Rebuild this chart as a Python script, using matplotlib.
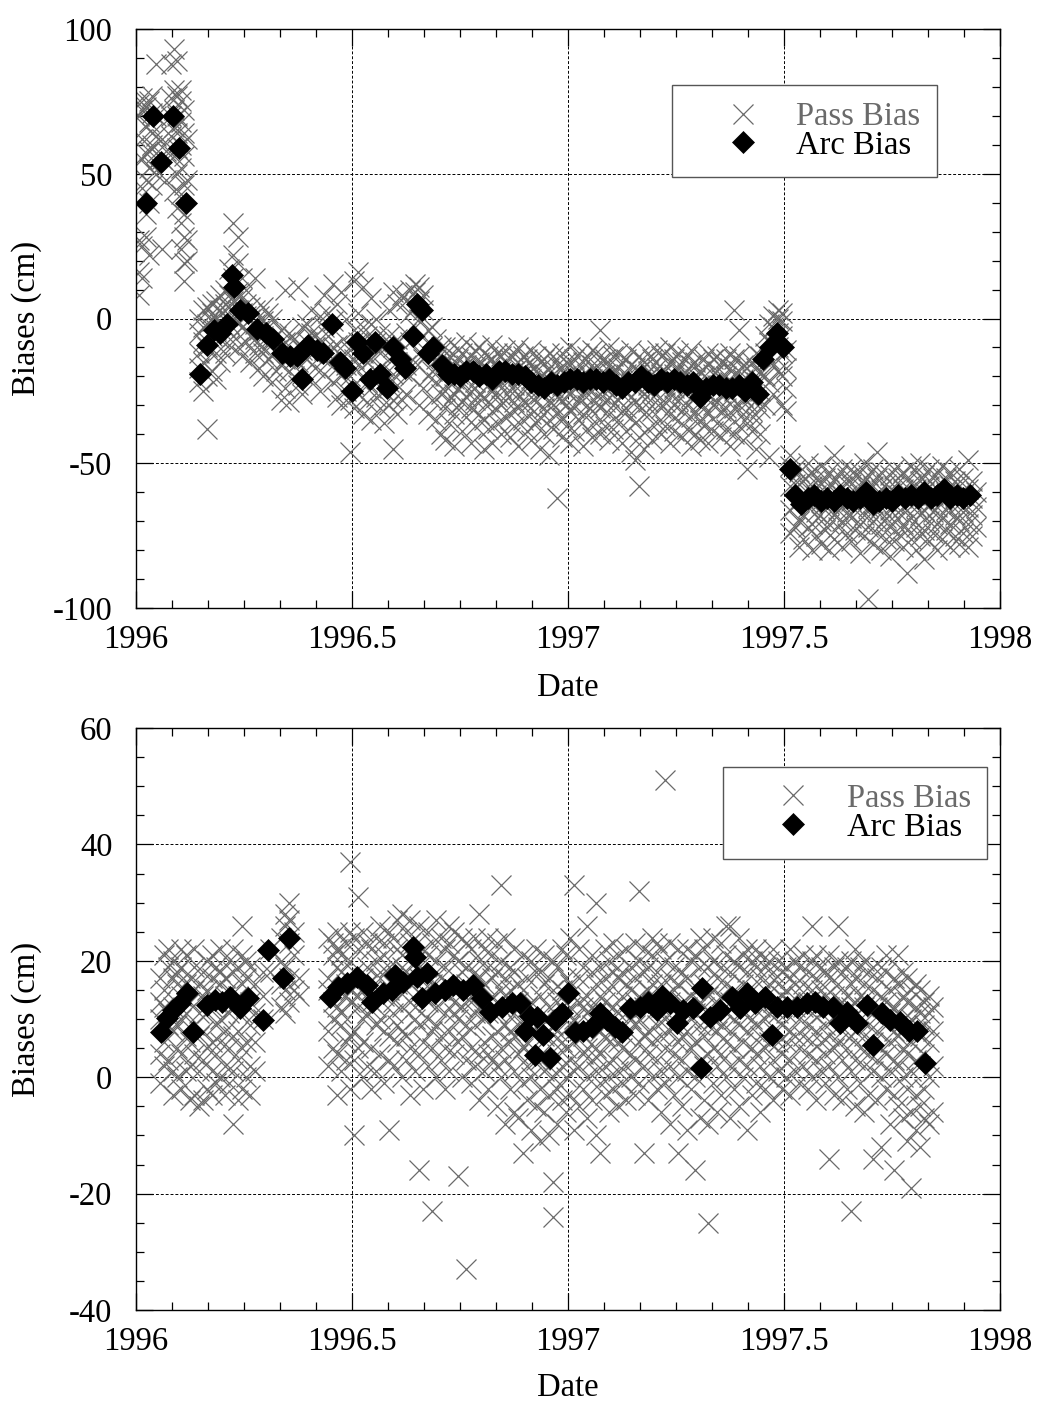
import matplotlib
matplotlib.use("Agg")
import matplotlib.pyplot as plt
from matplotlib.ticker import MultipleLocator, FixedLocator

plt.rcParams['font.family'] = ['Liberation Serif', 'DejaVu Serif']
plt.rcParams['axes.unicode_minus'] = False

# ---------------- top panel data ----------------
arc_top_x = [1996.023, 1996.039, 1996.058, 1996.086, 1996.100, 1996.116,
             1996.148, 1996.164, 1996.180, 1996.195, 1996.210, 1996.222, 1996.226, 1996.240, 1996.260,
             1996.280, 1996.300, 1996.317, 1996.338, 1996.356, 1996.372, 1996.384, 1996.398, 1996.419,
             1996.433, 1996.454, 1996.472, 1996.484, 1996.500, 1996.512, 1996.525, 1996.542, 1996.553,
             1996.565, 1996.581, 1996.595, 1996.611, 1996.623, 1996.641, 1996.650, 1996.662, 1996.676,
             1996.688, 1996.708, 1996.722,
             1996.735, 1996.750, 1996.765, 1996.780, 1996.795, 1996.810, 1996.825, 1996.840, 1996.855,
             1996.870, 1996.885, 1996.900, 1996.915, 1996.930, 1996.945, 1996.960, 1996.975, 1996.990,
             1997.005, 1997.020, 1997.035, 1997.050, 1997.065, 1997.080, 1997.095, 1997.110, 1997.125,
             1997.140, 1997.155, 1997.170, 1997.185, 1997.200, 1997.215, 1997.230, 1997.245, 1997.260,
             1997.275, 1997.290, 1997.305, 1997.320, 1997.335, 1997.350, 1997.365, 1997.380, 1997.395,
             1997.410, 1997.425, 1997.440,
             1997.451, 1997.468, 1997.483, 1997.498, 1997.514,
             1997.525, 1997.540, 1997.555, 1997.570, 1997.585, 1997.600, 1997.615, 1997.630, 1997.645,
             1997.660, 1997.675, 1997.690, 1997.705, 1997.720, 1997.735, 1997.750, 1997.765, 1997.780,
             1997.795, 1997.810, 1997.825, 1997.840, 1997.855, 1997.870, 1997.885, 1997.900, 1997.915, 1997.930]
arc_top_y = [40, 70, 54, 70, 59, 40,
             -19, -9, -4, -5, -2, 15, 11, 3, 2,
             -3.5, -5, -7, -12, -13, -13, -21, -9, -11,
             -12, -2, -15, -17, -25, -8, -12, -21, -8,
             -19, -24, -10, -14, -17, -6, 5, 3, -12,
             -10, -16, -19,
             -19, -20, -18, -18, -20, -19, -21, -18, -18,
             -19, -19, -20, -22, -23, -24, -22, -23, -22,
             -21, -21, -22, -21, -21, -22, -21, -23, -24,
             -22, -22, -20, -22, -23, -21, -22, -21, -22,
             -23, -22, -27, -24, -23, -23, -24, -24, -23,
             -25, -22, -26,
             -14, -10, -5, -10, -52,
             -61, -64, -62, -61, -63, -62, -63, -61, -62,
             -63, -62, -60, -64, -63, -62, -63, -61, -62,
             -61, -62, -60, -62, -61, -59, -62, -61, -62, -61]

pass_top_early = {
    1996.006: [8, 16, 27, 70, 74], 1996.014: [14, 25, 45, 55, 62, 72, 76],
    1996.022: [28, 36, 48, 57, 66, 73], 1996.030: [22, 40, 52, 58, 68, 75],
    1996.038: [46, 53, 60, 64, 71, 77], 1996.046: [50, 57, 63, 70, 88],
    1996.060: [24, 55, 62], 1996.070: [48, 58],
    1996.080: [63, 70, 76, 88], 1996.088: [44, 56, 66, 72, 79, 93],
    1996.096: [38, 50, 59, 64, 70, 77, 89], 1996.104: [24, 33, 43, 52, 60, 68, 75, 79],
    1996.112: [13, 19, 28, 36, 46, 56, 64, 72], 1996.118: [20, 27, 48, 62],
}

pass_top_mid = {
    1996.145: [-22, -17, -12, -5, 0], 1996.155: [-25, -15, -8, -3, 3],
    1996.165: [-38, -20, -10, -2, 4], 1996.175: [-18, -6, -1, 2, 5],
    1996.185: [-21, -12, -4, 0, 6], 1996.195: [-15, -7, -2, 3, 8],
    1996.205: [-12, -3, 1, 5, 10], 1996.215: [-9, -2, 4, 8, 17],
    1996.225: [-6, 0, 6, 14, 22, 33], 1996.235: [-10, -1, 3, 9, 19, 28],
    1996.245: [-13, -3, 2, 7, 14], 1996.255: [-8, -4, 1, 5, 10],
    1996.265: [-15, -6, 0, 4], 1996.275: [-12, -7, -2, 3, 14],
    1996.285: [-17, -9, -4, 1], 1996.295: [-20, -12, -6, -1, 4],
    1996.305: [-14, -9, -3, 2], 1996.315: [-22, -13, -7, 0],
    1996.325: [-18, -11, -6], 1996.335: [-28, -16, -10, -4],
    1996.345: [-24, -14, -8, 10], 1996.355: [-29, -18, -12, -5],
    1996.365: [-20, -14, -7], 1996.375: [-23, -15, -9, 11],
    1996.385: [-26, -19, -11, -3], 1996.395: [-14, -8, -2],
    1996.405: [-21, -12, -5, 3], 1996.415: [-17, -10, -6],
    1996.425: [-25, -13, -7, 1], 1996.435: [-19, -11, -3, 8],
    1996.445: [-15, -6, 2], 1996.455: [-22, -10, -1, 12],
    1996.465: [-27, -17, -9, 5], 1996.475: [-30, -20, -13, 9],
    1996.485: [-25, -16, -8, 0], 1996.495: [-46, -28, -20, -11],
    1996.505: [-31, -23, -14, -4, 13], 1996.515: [-26, -16, -8, 2, 16],
    1996.525: [-33, -20, -12, -3, 11], 1996.535: [-29, -22, -15, -6],
    1996.545: [-35, -24, -14, -2, 7], 1996.555: [-27, -18, -8, 0],
    1996.565: [-31, -21, -12, -5], 1996.575: [-36, -25, -17, -9],
    1996.585: [-30, -22, -14, -6, 3], 1996.595: [-45, -28, -19, -10, 9],
    1996.605: [-33, -23, -15, -7, 5], 1996.615: [-28, -18, -11, 8],
    1996.625: [-26, -16, -5, 6], 1996.635: [-20, -8, 2, 10],
    1996.645: [-15, -3, 4, 9, 12], 1996.655: [-30, -12, 0, 6, 11],
    1996.665: [-24, -14, -6, 3, 8], 1996.675: [-33, -20, -12, -4],
    1996.685: [-28, -18, -10, -3], 1996.695: [-35, -22, -14, -7],
    1996.705: [-40, -26, -17, -10],
}

pass_top_band = {
    1996.715: [-42, -31, -25, -20, -15, -10], 1996.725: [-36, -28, -22, -18, -13],
    1996.735: [-44, -33, -26, -21, -16, -9], 1996.745: [-30, -24, -19, -14, -11],
    1996.755: [-39, -29, -23, -17, -12], 1996.765: [-34, -27, -21, -16, -8],
    1996.775: [-43, -31, -25, -19, -13], 1996.785: [-37, -28, -22, -17, -11],
    1996.795: [-33, -26, -20, -15, -10], 1996.805: [-45, -35, -27, -21, -16, -12],
    1996.815: [-38, -29, -23, -18, -13], 1996.825: [-43, -32, -25, -19, -14, -9],
    1996.835: [-36, -27, -22, -17, -12], 1996.845: [-40, -30, -24, -18, -13],
    1996.855: [-34, -28, -21, -15, -11], 1996.865: [-41, -33, -25, -20, -14],
    1996.875: [-37, -29, -23, -18, -12], 1996.885: [-44, -31, -26, -20, -15, -10],
    1996.895: [-35, -28, -22, -17, -13], 1996.905: [-39, -30, -24, -19, -14],
    1996.915: [-42, -33, -27, -21, -16, -11], 1996.925: [-36, -29, -23, -18, -13],
    1996.935: [-45, -34, -26, -20, -15], 1996.945: [-40, -31, -25, -19, -14],
    1996.955: [-47, -35, -28, -22, -17, -12], 1996.965: [-38, -30, -24, -19, -13],
    1996.975: [-62, -33, -27, -21, -16], 1996.985: [-41, -34, -28, -23, -17, -12],
    1996.995: [-37, -30, -25, -20, -15], 1997.005: [-43, -32, -26, -21, -16, -10],
    1997.015: [-39, -31, -24, -19, -14], 1997.025: [-35, -28, -23, -18, -12],
    1997.035: [-44, -33, -26, -20, -15], 1997.045: [-38, -30, -24, -19, -13],
    1997.055: [-41, -32, -25, -21, -16, -11], 1997.065: [-36, -29, -23, -18, -12],
    1997.075: [-40, -31, -26, -20, -15, -4], 1997.085: [-37, -29, -24, -19, -14],
    1997.095: [-42, -33, -27, -21, -16, -10], 1997.105: [-38, -30, -23, -18, -13],
    1997.115: [-35, -28, -22, -17, -12], 1997.125: [-43, -32, -26, -20, -15],
    1997.135: [-39, -31, -25, -19, -14], 1997.145: [-46, -34, -27, -22, -16, -11],
    1997.155: [-49, -36, -29, -23, -17], 1997.165: [-58, -41, -30, -24, -18, -13],
    1997.175: [-45, -33, -26, -20, -15], 1997.185: [-38, -29, -23, -18, -12],
    1997.195: [-42, -32, -25, -19, -14], 1997.205: [-36, -28, -22, -17, -11],
    1997.215: [-40, -31, -24, -19, -13], 1997.225: [-37, -29, -23, -18, -12],
    1997.235: [-43, -33, -26, -20, -15, -10], 1997.245: [-39, -30, -24, -19, -14],
    1997.255: [-35, -28, -22, -17, -12], 1997.265: [-41, -32, -25, -20, -15],
    1997.275: [-38, -30, -24, -19, -13], 1997.285: [-44, -34, -27, -21, -16, -11],
    1997.295: [-40, -32, -26, -21, -15], 1997.305: [-42, -35, -29, -23, -18],
    1997.315: [-37, -31, -25, -20, -14], 1997.325: [-43, -33, -26, -21, -16, -12],
    1997.335: [-39, -30, -24, -19, -14], 1997.345: [-36, -29, -23, -18, -13],
    1997.355: [-41, -32, -26, -21, -15], 1997.365: [-38, -31, -25, -20, -14],
    1997.375: [-44, -34, -27, -22, -17, -12], 1997.385: [-40, -31, -25, -19, -14, 3],
    1997.395: [-37, -30, -24, -18, -13, -4], 1997.405: [-42, -33, -27, -21, -16],
    1997.415: [-52, -36, -29, -23, -17], 1997.425: [-39, -32, -26, -21, -15],
    1997.435: [-45, -35, -28, -22, -17, -12], 1997.445: [-40, -31, -25, -19, -13],
    1997.455: [-30, -20, -12, -6], 1997.465: [-48, -22, -14, -8, -2],
    1997.475: [-26, -16, -9, -3, 1], 1997.485: [-18, -10, -5, 0, 3],
    1997.495: [-30, -20, -12, -6, -1, 2], 1997.505: [-32, -24, -17, -11],
}

pass_top_late = {
    1997.515: [-74, -66, -58, -51, -47], 1997.525: [-72, -64, -57, -52],
    1997.535: [-79, -70, -63, -57, -53], 1997.545: [-76, -68, -62, -56],
    1997.555: [-72, -65, -59, -54, -50], 1997.565: [-80, -71, -64, -58, -53],
    1997.575: [-75, -67, -61, -55], 1997.585: [-78, -70, -63, -57, -51],
    1997.595: [-73, -66, -60, -55], 1997.605: [-80, -71, -64, -58, -53],
    1997.615: [-76, -68, -62, -56, -47], 1997.625: [-72, -66, -60, -54],
    1997.635: [-79, -70, -64, -58, -52], 1997.645: [-74, -67, -61, -55],
    1997.655: [-77, -69, -63, -57, -52], 1997.665: [-73, -66, -60, -54],
    1997.675: [-81, -71, -64, -58, -53], 1997.685: [-75, -68, -62, -56, -50],
    1997.695: [-97, -72, -65, -59, -54], 1997.705: [-78, -70, -64, -58, -52],
    1997.715: [-74, -67, -61, -55, -46], 1997.725: [-80, -71, -65, -59, -53],
    1997.735: [-76, -69, -63, -57], 1997.745: [-82, -72, -66, -60, -54],
    1997.755: [-77, -70, -64, -58, -52], 1997.765: [-74, -67, -61, -55],
    1997.775: [-79, -71, -65, -59, -53], 1997.785: [-88, -73, -66, -60, -55],
    1997.795: [-76, -69, -63, -57, -51], 1997.805: [-80, -72, -65, -59, -53],
    1997.815: [-75, -68, -62, -56, -50], 1997.825: [-83, -73, -66, -60, -54],
    1997.835: [-77, -70, -64, -58, -52], 1997.845: [-74, -67, -61, -55],
    1997.855: [-80, -71, -65, -59, -53], 1997.865: [-76, -69, -63, -57, -51],
    1997.875: [-73, -66, -60, -55], 1997.885: [-79, -71, -64, -58, -53],
    1997.895: [-75, -68, -62, -56], 1997.905: [-78, -70, -64, -58, -52],
    1997.915: [-74, -67, -61, -55], 1997.925: [-79, -71, -65, -59, -49],
    1997.935: [-75, -68, -62, -56], 1997.945: [-72, -65, -60],
}

# ---------------- bottom panel data ----------------
arc_bot_x = [1996.058, 1996.072, 1996.086, 1996.102, 1996.118, 1996.132, 1996.164, 1996.183,
             1996.199, 1996.218, 1996.241, 1996.259, 1996.294, 1996.306, 1996.340, 1996.354,
             1996.449, 1996.468, 1996.488, 1996.512, 1996.535, 1996.546, 1996.572, 1996.593,
             1996.600, 1996.618, 1996.641, 1996.645, 1996.650, 1996.662, 1996.674, 1996.692,
             1996.715, 1996.734, 1996.757, 1996.780, 1996.800, 1996.820, 1996.847, 1996.870,
             1996.889, 1996.900, 1996.912, 1996.924, 1996.928, 1996.942, 1996.958, 1996.970,
             1996.986, 1997.000, 1997.016, 1997.035, 1997.056, 1997.074, 1997.090, 1997.109,
             1997.125, 1997.144, 1997.167, 1997.185, 1997.206, 1997.218, 1997.236, 1997.252,
             1997.266, 1997.289, 1997.308, 1997.310, 1997.329, 1997.352, 1997.380, 1997.398,
             1997.414, 1997.433, 1997.456, 1997.472, 1997.484, 1997.507, 1997.530, 1997.553,
             1997.572, 1997.590, 1997.613, 1997.630, 1997.646, 1997.669, 1997.692, 1997.706,
             1997.727, 1997.745, 1997.769, 1997.790, 1997.808, 1997.826]
arc_bot_y = [7.7, 10.1, 11.5, 12.7, 14.4, 7.7, 12.4, 13.2,
             12.9, 13.7, 11.9, 13.6, 9.8, 21.8, 17, 24,
             13.7, 15.5, 16.2, 17.2, 15.8, 12.9, 14.4, 15,
             17.5, 16.3, 22.3, 20.6, 17.2, 13.6, 17.9, 14.4,
             15, 15.8, 15, 15.8, 13.6, 11.2, 12, 12.7,
             12.7, 8, 10.6, 3.8, 10.3, 7.2, 3.3, 9.8,
             11, 14.4, 7.7, 8, 8.6, 11, 9.8, 8.6,
             7.7, 11.9, 12, 12.9, 11.5, 14, 12.7, 9.3,
             11.5, 11.9, 1.5, 15.3, 10.3, 11.5, 13.7, 11.9,
             14.4, 12.7, 13.7, 7.2, 12, 12, 12, 12.7,
             12.9, 12, 12, 9.3, 11.2, 9.3, 12.4, 5.5,
             11, 9.8, 9.5, 8, 8, 2.4]

pass_bot_early = {
    1996.055: [-1, 4, 10, 13, 17], 1996.065: [2, 6, 12, 15, 21],
    1996.075: [3, 9, 11, 19, 22], 1996.085: [-3, 1, 8, 12, 17, 20],
    1996.095: [0, 5, 9, 16, 18], 1996.105: [-2, 4, 10, 14, 19, 22],
    1996.115: [1, 7, 11, 16, 21], 1996.125: [-4, 2, 6, 13, 17],
    1996.135: [-3, 4, 9, 15, 19, 22], 1996.145: [-5, 1, 7, 11, 16],
    1996.155: [-4, 3, 8, 14, 18], 1996.165: [-2, 5, 11, 15, 20],
    1996.175: [-3, 1, 6, 12, 17, 21], 1996.185: [-1, 4, 9, 13, 19],
    1996.195: [0, 6, 10, 16, 18, 22], 1996.205: [-3, 2, 8, 14, 17],
    1996.215: [-1, 5, 11, 15, 20], 1996.225: [-8, 1, 7, 12, 18, 22],
    1996.235: [-4, 3, 8, 14, 19], 1996.245: [-2, 5, 11, 16, 21, 26],
    1996.255: [0, 6, 12, 17, 20], 1996.265: [-3, 2, 9, 13, 19],
    1996.275: [1, 6, 11, 16],
    1996.295: [10, 14, 18], 1996.310: [18, 22],
    1996.335: [12, 16, 20, 24], 1996.345: [11, 15, 19, 26, 28],
    1996.355: [13, 17, 23, 27, 30], 1996.365: [15, 21, 25],
    1996.378: [14, 17],
}

pass_bot_main = {
    1996.445: [2, 8, 15, 17, 24], 1996.455: [5, 10, 13, 21, 23],
    1996.465: [-3, 4, 12, 19, 22, 25], 1996.475: [1, 9, 11, 18, 21],
    1996.485: [3, 6, 14, 16, 23], 1996.495: [-2, 7, 13, 15, 20, 25, 37],
    1996.505: [-10, 3, 8, 16, 18, 24], 1996.515: [5, 12, 14, 22, 31],
    1996.525: [0, 6, 10, 17, 25], 1996.535: [2, 11, 16, 19, 23],
    1996.545: [-2, 5, 13, 15, 22], 1996.555: [1, 9, 12, 20, 24],
    1996.565: [4, 10, 17, 18, 26], 1996.575: [-1, 8, 14, 21, 23],
    1996.585: [-9, 3, 7, 15, 19, 25], 1996.595: [2, 11, 13, 17, 24],
    1996.605: [6, 9, 16, 22, 27], 1996.615: [0, 8, 12, 19, 21, 28],
    1996.625: [3, 7, 15, 18, 25], 1996.635: [-3, 5, 13, 16, 23, 27],
    1996.645: [1, 10, 12, 20, 24], 1996.655: [-16, 4, 9, 17, 19, 26],
    1996.665: [-2, 6, 14, 15, 22], 1996.675: [2, 10, 13, 21, 25],
    1996.685: [-23, 5, 8, 16, 23], 1996.695: [0, 9, 12, 18, 20, 27],
    1996.705: [3, 7, 15, 17, 24], 1996.715: [-2, 5, 11, 19, 22],
    1996.725: [1, 8, 14, 16, 23, 26], 1996.735: [4, 11, 13, 21, 25],
    1996.745: [-17, 6, 10, 15, 20], 1996.755: [0, 7, 12, 18, 24],
    1996.765: [-33, 3, 9, 16, 19, 23], 1996.775: [-1, 5, 13, 14, 22],
    1996.785: [2, 9, 11, 18, 24], 1996.795: [-4, 4, 12, 17, 20, 28],
    1996.805: [1, 6, 10, 16, 22], 1996.815: [-2, 4, 11, 13, 19, 24],
    1996.825: [3, 7, 14, 17, 21], 1996.835: [-5, 2, 8, 11, 18, 23],
    1996.845: [0, 5, 12, 15, 20, 33], 1996.855: [-8, 3, 9, 14, 17, 24],
    1996.865: [-2, 6, 8, 15, 19], 1996.875: [-6, 1, 7, 11, 18, 22],
    1996.885: [-7, 4, 9, 13, 16], 1996.895: [-13, -1, 5, 9, 15, 21],
    1996.905: [-4, 2, 6, 12, 17], 1996.915: [-9, 0, 4, 10, 13, 20],
    1996.925: [-5, 3, 8, 11, 18, 22], 1996.935: [-11, -2, 3, 9, 14, 18],
    1996.945: [-6, 1, 7, 10, 16, 21], 1996.955: [-10, -3, 2, 8, 12, 17],
    1996.965: [-24, -18, 0, 6, 9, 15, 20], 1996.975: [-8, -2, 4, 8, 13, 19],
    1996.985: [-4, 2, 6, 12, 15, 22], 1996.995: [-6, 0, 5, 11, 17, 21],
    1997.005: [-3, 3, 9, 12, 16, 24], 1997.015: [-9, 1, 6, 10, 15, 33],
    1997.025: [-5, 2, 8, 13, 17, 22], 1997.035: [-2, 4, 7, 12, 19],
    1997.045: [-7, 0, 5, 11, 14, 26], 1997.055: [-4, 3, 9, 12, 18, 21],
    1997.065: [-10, 1, 5, 11, 16, 30], 1997.075: [-13, -1, 4, 8, 14, 19],
    1997.085: [-3, 2, 7, 13, 17, 22], 1997.095: [-6, 0, 6, 10, 15, 20],
    1997.105: [-2, 3, 8, 12, 18, 23], 1997.115: [-5, 1, 6, 11, 17, 21],
    1997.125: [-1, 5, 9, 14, 18], 1997.135: [-4, 2, 7, 11, 16, 22],
    1997.145: [0, 4, 10, 15, 19], 1997.155: [-3, 3, 9, 13, 17, 23],
    1997.165: [-1, 6, 10, 14, 20, 32], 1997.175: [-13, 2, 7, 12, 18, 22],
    1997.185: [-4, 4, 8, 15, 19], 1997.195: [0, 6, 11, 16, 21, 24],
    1997.205: [-2, 3, 9, 13, 18, 23], 1997.215: [-6, 1, 7, 12, 16, 22],
    1997.225: [-1, 5, 10, 14, 20, 51], 1997.235: [-8, 2, 8, 13, 17, 23],
    1997.245: [-3, 4, 9, 15, 19], 1997.255: [-13, 0, 6, 11, 16, 22],
    1997.265: [-5, 3, 7, 13, 18], 1997.275: [-9, 1, 8, 12, 17, 22],
    1997.285: [-2, 5, 10, 14, 20], 1997.295: [-16, 0, 6, 11, 15, 21],
    1997.305: [-7, 3, 9, 13, 19, 24], 1997.315: [-4, 2, 7, 12, 16, 22],
    1997.325: [-25, -8, 4, 9, 14, 19], 1997.335: [-1, 5, 10, 15, 20, 24],
    1997.345: [-6, 2, 8, 13, 17], 1997.355: [-3, 4, 9, 14, 19, 23],
    1997.365: [0, 6, 11, 16, 21, 26], 1997.375: [-7, 2, 8, 13, 18, 26],
    1997.385: [-2, 5, 10, 15, 20], 1997.395: [-5, 3, 9, 14, 19, 24],
    1997.405: [0, 6, 11, 16, 21], 1997.415: [-9, 2, 8, 13, 18, 22],
    1997.425: [-3, 5, 10, 15, 20], 1997.435: [-1, 4, 9, 14, 19, 22],
    1997.445: [-6, 2, 7, 12, 17, 21], 1997.455: [-2, 5, 10, 15, 19],
    1997.465: [0, 6, 11, 16, 20], 1997.475: [-4, 3, 8, 13, 18, 22],
    1997.485: [1, 6, 11, 16, 20], 1997.495: [-2, 4, 9, 14, 18],
    1997.505: [0, 6, 11, 15, 19], 1997.515: [-3, 3, 8, 13, 17, 22],
    1997.525: [1, 7, 12, 16, 20], 1997.535: [-1, 5, 10, 14, 19],
    1997.545: [2, 7, 12, 16, 21], 1997.555: [-2, 4, 9, 13, 18],
    1997.565: [0, 6, 11, 15, 20, 26], 1997.575: [-4, 3, 8, 13, 17, 21],
    1997.585: [1, 6, 11, 15, 19], 1997.595: [-1, 4, 9, 14, 18],
    1997.605: [-14, 2, 7, 12, 17, 21], 1997.615: [-3, 5, 10, 14, 19],
    1997.625: [0, 6, 11, 16, 20, 26], 1997.635: [-4, 3, 8, 13, 18],
    1997.645: [-2, 5, 10, 14, 19], 1997.655: [-23, 1, 7, 12, 16, 20],
    1997.665: [-5, 3, 8, 13, 17, 22], 1997.675: [-1, 5, 10, 14, 19],
    1997.685: [-6, 2, 7, 12, 16, 20], 1997.695: [-3, 4, 9, 13, 18],
    1997.705: [-14, 1, 6, 11, 15, 19], 1997.715: [-4, 3, 8, 12, 17],
    1997.725: [-12, 0, 5, 10, 14, 19], 1997.735: [-2, 4, 9, 13, 18, 21],
    1997.745: [-8, 1, 6, 11, 15], 1997.755: [-16, -3, 3, 8, 12, 17],
    1997.765: [-5, 2, 7, 11, 16, 21], 1997.775: [-7, 0, 5, 10, 14, 18],
    1997.785: [-11, -2, 4, 9, 13, 17], 1997.795: [-19, -6, 1, 6, 10, 15],
    1997.805: [-9, -3, 3, 8, 12, 16], 1997.815: [-12, -5, 2, 7, 11, 15],
    1997.825: [-7, -2, 4, 9, 13], 1997.835: [-8, 0, 6, 11, 14],
    1997.845: [-6, 2, 8, 12],
}

x_ticks = [1996, 1996.5, 1997, 1997.5, 1998]
x_tick_labels = ['1996', '1996.5', '1997', '1997.5', '1998']


def flatten(*groups):
    xs, ys = [], []
    for g in groups:
        for d, vals in g.items():
            xs += [d] * len(vals)
            ys += vals
    return xs, ys


PASS_COLOR = '#6a6a6a'
FS = 23.5

fig = plt.figure(figsize=(10.37, 14.01), dpi=100)
W, H = 1037, 1401
ax1 = fig.add_axes([136 / W, 1 - 608 / H, 864 / W, 579 / H])
ax2 = fig.add_axes([136 / W, 1 - 1310 / H, 864 / W, 582 / H])

panels = [
    (ax1, flatten(pass_top_early, pass_top_mid, pass_top_band, pass_top_late),
     arc_top_x, arc_top_y, (-100, 100), 50, 10, (0.927, 0.903)),
    (ax2, flatten(pass_bot_early, pass_bot_main),
     arc_bot_x, arc_bot_y, (-40, 60), 20, 5, (0.985, 0.933)),
]

for ax, (px, py), ax_x, ax_y, ylim, ymaj, ymin, leg_pos in panels:
    ax.plot(px, py, linestyle='none', marker='x', ms=14, mew=0.9,
            color=PASS_COLOR, label='Pass Bias', zorder=2)
    ax.plot(ax_x, ax_y, linestyle='none', marker='D', ms=11, mew=0.5,
            color='black', label='Arc Bias', zorder=3)

    ax.set_xlim(1996, 1998)
    ax.set_ylim(*ylim)
    ax.xaxis.set_major_locator(FixedLocator(x_ticks))
    ax.set_xticklabels(x_tick_labels)
    ax.xaxis.set_minor_locator(MultipleLocator(1 / 12))
    ax.yaxis.set_major_locator(MultipleLocator(ymaj))
    ax.yaxis.set_minor_locator(MultipleLocator(ymin))
    ax.set_yticklabels([str(int(v)) for v in ax.get_yticks()])

    ax.tick_params(which='both', direction='in', top=True, right=True,
                   labelsize=FS, width=0.9)
    ax.tick_params(which='major', length=12)
    ax.tick_params(which='minor', length=6)
    ax.tick_params(axis='x', which='major', pad=12)
    ax.tick_params(axis='y', which='major', pad=17)
    ax.grid(True, which='major', color='black', linestyle=(0, (3, 2)), linewidth=0.7)
    ax.set_axisbelow(True)
    for s in ax.spines.values():
        s.set_linewidth(1.0)

    ax.set_xlabel('Date', fontsize=FS)
    ax.set_ylabel('Biases (cm)', fontsize=FS)
    ax.yaxis.set_label_coords(-0.109, 0.5)

    leg = ax.legend(loc='upper right', bbox_to_anchor=leg_pos, borderaxespad=0,
                    fontsize=FS, handlelength=3.3, handletextpad=0.0,
                    borderpad=0.5, labelspacing=-0.05, fancybox=False,
                    framealpha=1, edgecolor='#555555')
    leg.get_frame().set_linewidth(1.0)
    leg.get_texts()[0].set_color(PASS_COLOR)

ax1.xaxis.set_label_coords(0.5, -0.112)
ax2.xaxis.set_label_coords(0.5, -0.108)

fig.savefig('out.png', dpi=100)
